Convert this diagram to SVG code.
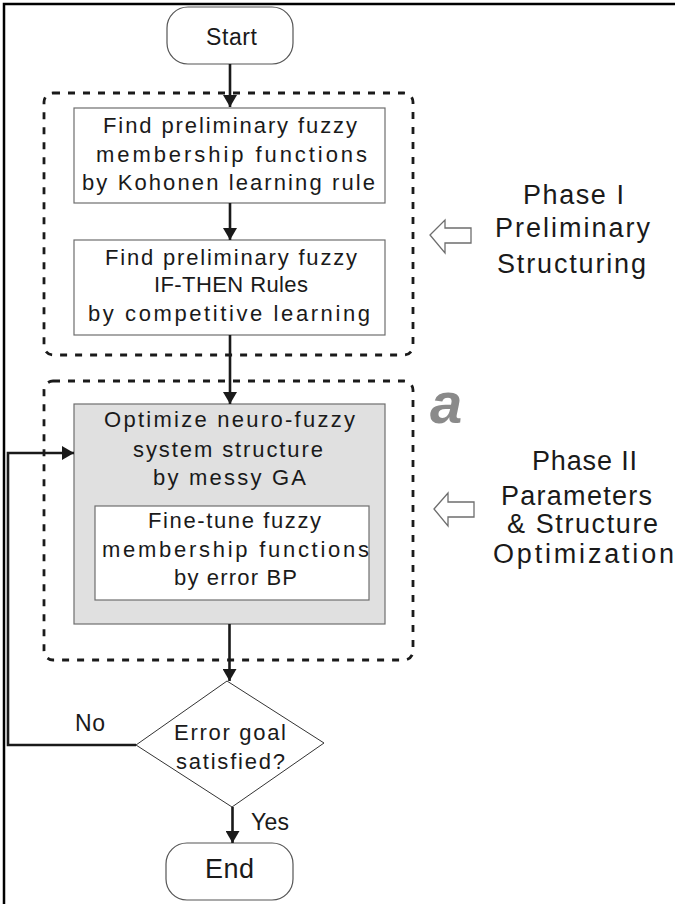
<svg xmlns="http://www.w3.org/2000/svg" width="675" height="904" viewBox="0 0 675 904">
<style>
text{font-family:"Liberation Sans",Arial,sans-serif;fill:#1a1a1a;}
.bt{font-size:22px;text-anchor:middle;}
.pt{font-size:27px;text-anchor:middle;}
.box{fill:#fff;stroke:#6e6e6e;stroke-width:1.2;}
.gbox{fill:#e0e0e0;stroke:#6e6e6e;stroke-width:1.2;}
.term{fill:#fff;stroke:#555;stroke-width:1.2;}
.dash{fill:none;stroke:#1a1a1a;stroke-width:2.8;stroke-dasharray:7 8;}
.conn{fill:none;stroke:#1a1a1a;stroke-width:2.6;}
.hollow{fill:#fff;stroke:#6e6e6e;stroke-width:1.3;}
</style>
<defs>
<marker id="ah" markerUnits="userSpaceOnUse" markerWidth="14" markerHeight="14" viewBox="0 0 12 14" refX="12" refY="7" orient="auto">
<path d="M0,0 L12,7 L0,14 Z" fill="#1a1a1a"/>
</marker>
</defs>
<path d="M4,904 V4 H675" fill="none" stroke="#000" stroke-width="2.5"/>
<g id="phase1-group"><rect class="dash" x="44" y="93" width="369" height="262" rx="9"/></g>
<g id="phase2-group"><rect class="dash" x="44" y="381" width="369" height="279" rx="9"/></g>
<g id="start"><rect class="term" x="167" y="7" width="126" height="57" rx="21"/><text x="231.5" y="45" font-size="23" text-anchor="middle" textLength="51" lengthAdjust="spacing">Start</text></g>
<g id="box1"><rect class="box" x="74" y="108" width="311" height="95"/>
<text class="bt" x="230" y="133" textLength="254" lengthAdjust="spacing">Find preliminary fuzzy</text>
<text class="bt" x="231.5" y="162" textLength="271" lengthAdjust="spacing">membership functions</text>
<text class="bt" x="228.5" y="190" textLength="293" lengthAdjust="spacing">by Kohonen learning rule</text></g>
<g id="box2"><rect class="box" x="74" y="240" width="311" height="95"/>
<text class="bt" x="231" y="265" textLength="252" lengthAdjust="spacing">Find preliminary fuzzy</text>
<text class="bt" x="231" y="292" textLength="154" lengthAdjust="spacing">IF-THEN Rules</text>
<text class="bt" x="229" y="321" textLength="282" lengthAdjust="spacing">by competitive learning</text></g>
<g id="box3"><rect class="gbox" x="74" y="404" width="311" height="220"/>
<text class="bt" x="229.5" y="427" textLength="251" lengthAdjust="spacing">Optimize neuro-fuzzy</text>
<text class="bt" x="228" y="457" textLength="190" lengthAdjust="spacing">system structure</text>
<text class="bt" x="229.5" y="485" textLength="153" lengthAdjust="spacing">by messy GA</text></g>
<g id="box4"><rect class="box" x="95" y="506" width="274" height="94"/>
<text class="bt" x="234.5" y="528" textLength="173" lengthAdjust="spacing">Fine-tune fuzzy</text>
<text class="bt" x="235.5" y="557" textLength="267" lengthAdjust="spacing">membership functions</text>
<text class="bt" x="235.5" y="585" textLength="123" lengthAdjust="spacing">by error BP</text></g>
<g id="decision"><polygon points="227,681 324,743 232,807 136,745" fill="#fff" stroke="#333" stroke-width="1"/>
<text class="bt" x="230" y="740" textLength="112" lengthAdjust="spacing">Error goal</text>
<text class="bt" x="230.5" y="769" textLength="109" lengthAdjust="spacing">satisfied?</text></g>
<g id="end"><rect class="term" x="166" y="843" width="127" height="57" rx="21"/><text x="229.5" y="878" font-size="27" text-anchor="middle" textLength="49" lengthAdjust="spacing">End</text></g>
<g id="label-a"><text x="430" y="423" font-size="58" font-weight="bold" font-style="italic" style="fill:#8a8a8a">a</text></g>
<g id="phase1-label">
<polygon class="hollow" points="430,235 445,220 445,228 471,228 471,243 445,243 445,253"/>
<text class="pt" x="573.5" y="204" textLength="101" lengthAdjust="spacing">Phase I</text>
<text class="pt" x="572.5" y="237" textLength="155" lengthAdjust="spacing">Preliminary</text>
<text class="pt" x="571.5" y="273" textLength="149" lengthAdjust="spacing">Structuring</text></g>
<g id="phase2-label">
<polygon class="hollow" points="434,509 448,493 448,502 474,502 474,517 448,517 448,526"/>
<text class="pt" x="584.5" y="470" textLength="105" lengthAdjust="spacing">Phase II</text>
<text class="pt" x="576.5" y="505" textLength="151" lengthAdjust="spacing">Parameters</text>
<text class="pt" x="582.5" y="533" textLength="151" lengthAdjust="spacing">&amp; Structure</text>
<text class="pt" x="583.5" y="563" textLength="181" lengthAdjust="spacing">Optimization</text></g>
<g id="connectors">
<line class="conn" x1="230" y1="64" x2="230" y2="107" marker-end="url(#ah)"/>
<line class="conn" x1="230" y1="203" x2="230" y2="240" marker-end="url(#ah)"/>
<line class="conn" x1="230" y1="335" x2="230" y2="404" marker-end="url(#ah)"/>
<line class="conn" x1="229.5" y1="624" x2="229.5" y2="681" marker-end="url(#ah)"/>
<line class="conn" x1="232.5" y1="807" x2="232.5" y2="843" marker-end="url(#ah)"/>
<polyline class="conn" points="136,745 8,745 8,453 74,453" marker-end="url(#ah)"/>
<text x="90" y="731" font-size="23" text-anchor="middle" textLength="30" lengthAdjust="spacing">No</text>
<text x="270" y="830" font-size="23" text-anchor="middle" textLength="38" lengthAdjust="spacing">Yes</text>
</g>
</svg>
